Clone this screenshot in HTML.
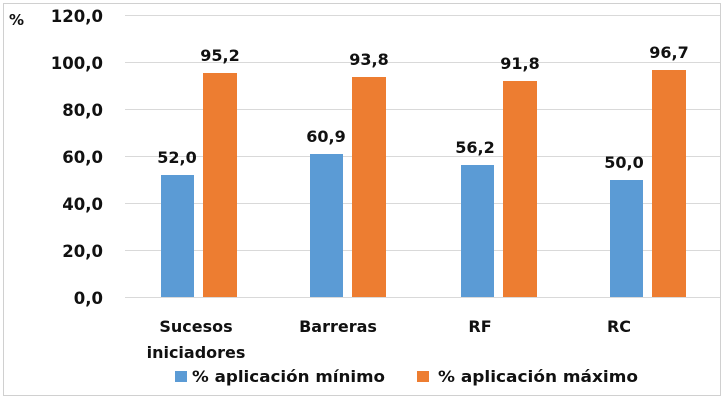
<!DOCTYPE html>
<html><head><meta charset="utf-8"><style>
body{margin:0;background:#fff}
svg text{font-family:"DejaVu Sans","Liberation Sans",sans-serif;font-weight:bold;fill:#111}
</style></head><body>
<svg width="727" height="403" xmlns="http://www.w3.org/2000/svg">
<rect x="0" y="0" width="727" height="403" fill="#fff"/>
<rect x="3.5" y="3.5" width="717" height="392" fill="none" stroke="#d0d0d0" stroke-width="1"/>
<g stroke="#d9d9d9" stroke-width="1">
<line x1="125" x2="720" y1="15.5" y2="15.5"/>
<line x1="125" x2="720" y1="62.5" y2="62.5"/>
<line x1="125" x2="720" y1="109.5" y2="109.5"/>
<line x1="125" x2="720" y1="156.5" y2="156.5"/>
<line x1="125" x2="720" y1="203.5" y2="203.5"/>
<line x1="125" x2="720" y1="250.5" y2="250.5"/>
<line x1="125" x2="720" y1="297.5" y2="297.5"/>
</g>
<g font-size="16.5" text-anchor="end">
<text x="103" y="22">120,0</text>
<text x="103" y="69">100,0</text>
<text x="103" y="116">80,0</text>
<text x="103" y="163">60,0</text>
<text x="103" y="210">40,0</text>
<text x="103" y="257">20,0</text>
<text x="103" y="304">0,0</text>
</g>
<text x="9" y="25" font-size="15">%</text>
<g fill="#5b9bd5">
<rect x="161" y="175" width="33" height="122"/>
<rect x="310" y="154" width="33" height="143"/>
<rect x="461" y="165" width="33" height="132"/>
<rect x="610" y="180" width="33" height="117"/>
</g>
<g fill="#ed7d31">
<rect x="203" y="73" width="34" height="224"/>
<rect x="352" y="77" width="34" height="220"/>
<rect x="503" y="81" width="34" height="216"/>
<rect x="652" y="70" width="34" height="227"/>
</g>
<g font-size="16" text-anchor="middle">
<text x="177" y="163">52,0</text>
<text x="220" y="61">95,2</text>
<text x="326" y="142">60,9</text>
<text x="369" y="65">93,8</text>
<text x="475" y="153">56,2</text>
<text x="520" y="69">91,8</text>
<text x="624" y="168">50,0</text>
<text x="669" y="58">96,7</text>
<text x="196" y="332">Sucesos</text>
<text x="196" y="358">iniciadores</text>
<text x="338" y="332">Barreras</text>
<text x="480" y="332">RF</text>
<text x="619" y="332">RC</text>
</g>
<rect x="175" y="371" width="12" height="11" fill="#5b9bd5"/>
<text x="192" y="382" font-size="16" textLength="193" lengthAdjust="spacingAndGlyphs">% aplicación mínimo</text>
<rect x="417" y="371" width="12" height="11" fill="#ed7d31"/>
<text x="438" y="382" font-size="16" textLength="200" lengthAdjust="spacingAndGlyphs">% aplicación máximo</text>
</svg>
</body></html>
